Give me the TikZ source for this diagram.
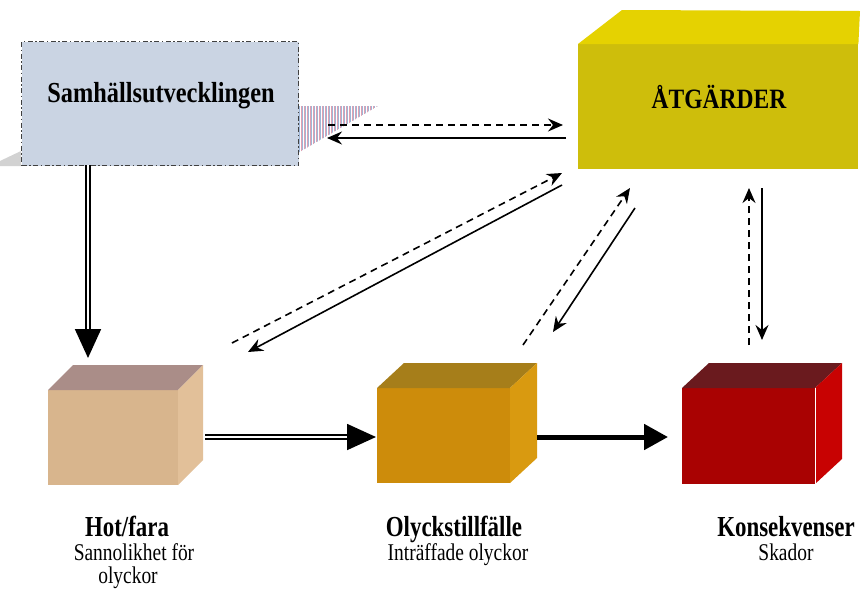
\documentclass[tikz,border=0pt]{standalone}
\usepackage{fontspec}
\setmainfont{Liberation Serif}
\newfontfamily\condfont[FakeStretch=0.79]{Liberation Serif}
\newfontfamily\boxfont[FakeStretch=0.84]{Liberation Serif}
\newfontfamily\smallfont[FakeStretch=0.81]{Liberation Serif}
\usetikzlibrary{arrows.meta,calc}

\definecolor{samhfill}{HTML}{CAD4E3}
\definecolor{atgfront}{HTML}{CEBE0B}
\definecolor{atgtop}{HTML}{E5D201}
\definecolor{hotfront}{HTML}{D8B58D}
\definecolor{hottop}{HTML}{AA8D88}
\definecolor{hotside}{HTML}{E2C099}
\definecolor{olyfront}{HTML}{CD8C0B}
\definecolor{olytop}{HTML}{A67E1A}
\definecolor{olyside}{HTML}{D99A10}
\definecolor{konfront}{HTML}{A90202}
\definecolor{kontop}{HTML}{6A1A1E}
\definecolor{konside}{HTML}{C80202}
\definecolor{hatchA}{HTML}{E0A0B2}
\definecolor{hatchB}{HTML}{9FB6D6}

% cube: name, x, y (front top-left), width, height, depth, front, top, side colours
\newcommand\boxcube[9]{%
  \node[minimum width=#4pt, minimum height=#5pt, inner sep=0pt, outer sep=0pt,
        fill=#7, anchor=north west] (#1) at (#2,#3) {};
  \fill[#8] (#1.north west) -- ++(#6,-25) -- ++(#4,0) -- (#1.north east) -- cycle;
  \fill[#9] (#1.north east) -- ++(#6,-25) -- ++(0,#5) -- (#1.south east) -- cycle;
}

\tikzset{
  headtext/.style={anchor=base, font=\condfont\bfseries\fontsize{29}{31}\selectfont},
  boxtext/.style={anchor=base, font=\boxfont\bfseries\fontsize{29}{31}\selectfont},
  subtext/.style={anchor=base, font=\smallfont\fontsize{24}{26}\selectfont},
  thinarrow/.style={line width=1.6pt, -{Stealth[length=15pt,width=13pt,inset=5pt]}},
  dasharrow/.style={thinarrow, dash pattern=on 7pt off 5pt},
  dblarrow/.style={double=white, double distance=2.2pt, line width=1.8pt,
                   -{Triangle[length=29pt,width=26pt]}},
  boldarrow/.style={line width=5pt, -{Triangle[length=24pt,width=25pt]}},
}

\begin{document}
\begin{tikzpicture}[x=1pt,y=-1pt]
\useasboundingbox[fill=white] (0,0) rectangle (863,590);

% striped shadow beside the society box
\begin{scope}
  \clip (298,106) -- (378,106) -- (298,153) -- cycle;
  \foreach \i in {0,...,27} {
    \draw[line width=0.9pt, hatchA] (298.5+3*\i,104) -- ++(0,50);
    \draw[line width=0.9pt, hatchB] (299.8+3*\i,104) -- ++(0,50);
  }
\end{scope}
\fill[gray!35] (0,161) -- (21,151) -- (21,166) -- (0,166) -- cycle;

% society box
\node[draw=black!75, fill=samhfill, line width=1.1pt,
      dash pattern=on 5pt off 2.5pt on 1.5pt off 2.5pt,
      minimum width=277pt, minimum height=124pt, anchor=north west,
      inner sep=0pt] (samh) at (21,41) {};
\node[boxtext] (samhtext) at (161,102) {Samhällsutvecklingen};

% measures box
\node[minimum width=280pt, minimum height=125pt, inner sep=0pt,
      fill=atgfront, anchor=north west] (atg) at (578,44) {};
\fill[atgtop] (atg.north west) -- (622,10) -- (860,11) -- (atg.north east) -- cycle;
\node[anchor=base, font=\boxfont\bfseries\fontsize{28}{30}\selectfont]
      (atgtext) at (719,108) {ÅTGÄRDER};

% the three cubes
\boxcube{hot}{48}{390}{130}{95}{25}{hotfront}{hottop}{hotside}
\boxcube{olyck}{377}{388}{133}{95}{27}{olyfront}{olytop}{olyside}
\boxcube{konsek}{682}{388}{133}{96}{27}{konfront}{kontop}{konside}
\draw[white, line width=1pt] (konsek.north east) -- (konsek.south east);

% labels
\node[headtext] (hotname) at (127,536) {Hot/fara};
\node[subtext] (hotsub1) at (134,560) {Sannolikhet för};
\node[subtext] (hotsub2) at (128,583) {olyckor};
\node[headtext] (olyname) at (454,536) {Olyckstillfälle};
\node[subtext] (olysub) at (458,560) {Inträffade olyckor};
\node[headtext] (konname) at (786,536) {Konsekvenser};
\node[subtext] (konsub) at (786,560) {Skador};

% connector end points
\coordinate (samh-bot) at (88,165);
\coordinate (hot-top) at (88,358);
\coordinate (hot-right) at (205,437);
\coordinate (olyck-left) at (376,437);
\coordinate (olyck-right) at (537,437);
\coordinate (konsek-left) at (668,437);

\coordinate (samh-d) at (328,125);
\coordinate (atg-d) at (563,125);
\coordinate (atg-s) at (566,138);
\coordinate (samh-s) at (327,138);

\coordinate (hot-d) at (232,343);
\coordinate (atg-hd) at (562,173);
\coordinate (atg-hs) at (562,185);
\coordinate (hot-s) at (248,352);

\coordinate (oly-d) at (523,345);
\coordinate (atg-od) at (630,188);
\coordinate (atg-os) at (635,208);
\coordinate (oly-s) at (553,332);

\coordinate (kon-d) at (749,345);
\coordinate (atg-kd) at (749,188);
\coordinate (atg-ks) at (762,188);
\coordinate (kon-s) at (762,340);

% main chain
\draw[dblarrow] (samh-bot) -- (hot-top);
\draw[dblarrow] (hot-right) -- (olyck-left);
\draw[boldarrow] (olyck-right) -- (konsek-left);

% feedback with measures
\draw[dasharrow] (samh-d) -- (atg-d);
\draw[thinarrow] (atg-s) -- (samh-s);
\draw[dasharrow] (hot-d) -- (atg-hd);
\draw[thinarrow] (atg-hs) -- (hot-s);
\draw[dasharrow] (oly-d) -- (atg-od);
\draw[thinarrow] (atg-os) -- (oly-s);
\draw[dasharrow] (kon-d) -- (atg-kd);
\draw[thinarrow] (atg-ks) -- (kon-s);
\end{tikzpicture}
\end{document}
